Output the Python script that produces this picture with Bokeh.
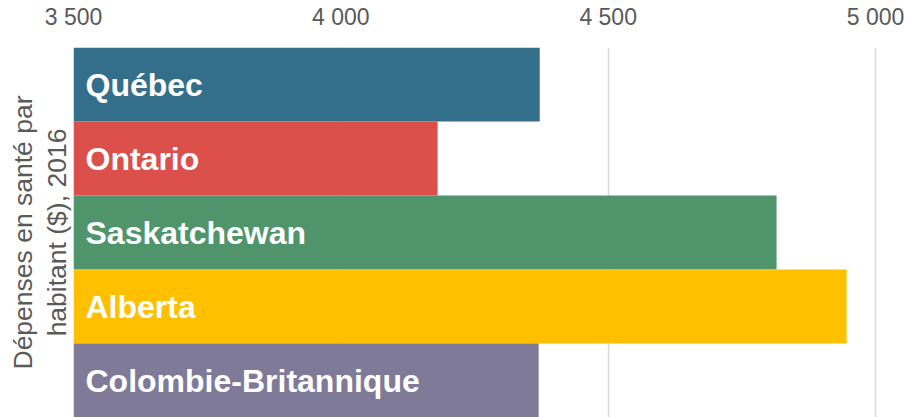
from bokeh.plotting import figure
from bokeh.models import FixedTicker, ColumnDataSource, Range1d, FactorRange, Title
from bokeh.core.properties import value
from bokeh.embed import file_html
from bokeh.resources import INLINE

provinces = ["Québec", "Ontario", "Saskatchewan", "Alberta", "Colombie-Britannique"]
depenses = [4372, 4181, 4815, 4946, 4370]
colors = ["#336E8A", "#DB504A", "#4F946A", "#FFC000", "#7E7A98"]
tick_values = [3500, 4000, 4500, 5000]
tick_labels = ["3 500", "4 000", "4 500", "5 000"]
axis_title_lines = ["Dépenses en santé par", "habitant ($), 2016"]
base = 3500

src = ColumnDataSource(dict(prov=provinces, val=depenses, col=colors,
                            base=[base] * len(provinces)))

p = figure(width=906, height=417, output_backend="svg", toolbar_location=None,
           y_range=FactorRange(factors=list(reversed(provinces))),
           x_range=Range1d(3500, 5058),
           x_axis_location="above", y_axis_location=None,
           min_border_left=73, min_border_top=46, min_border_bottom=0, min_border_right=0)
p.outline_line_color = None
p.background_fill_color = "white"

p.hbar(y="prov", left="base", right="val", height=1.0, color="col", line_color=None, source=src)
p.text(x="base", y="prov", text="prov", source=src, x_offset=12,
       text_font=value("Liberation Sans"), text_font_style="bold",
       text_font_size="32px", text_color="white", text_baseline="middle")

xa = p.xaxis[0]
xa.ticker = FixedTicker(ticks=tick_values)
xa.major_label_overrides = {v: l for v, l in zip(tick_values, tick_labels)}
xa.axis_line_color = None
xa.major_tick_line_color = None
xa.minor_tick_line_color = None
xa.major_label_text_font = "Liberation Sans"
xa.major_label_text_font_size = "23px"
xa.major_label_text_color = "#595959"
xa.major_label_standoff = 12

for i, line in enumerate(reversed(axis_title_lines)):
    t = Title(text=line, align="center", text_font="Liberation Sans",
              text_font_size="26.5px", text_font_style="normal", text_color="#595959",
              offset=0, standoff=4 if i == 0 else 0)
    p.add_layout(t, "left")

p.xgrid.ticker = FixedTicker(ticks=tick_values)
p.xgrid.grid_line_color = "#D9D9D9"
p.xgrid.grid_line_width = 1.5
p.ygrid.grid_line_color = None

open("out.html", "w").write(file_html(p, INLINE))
